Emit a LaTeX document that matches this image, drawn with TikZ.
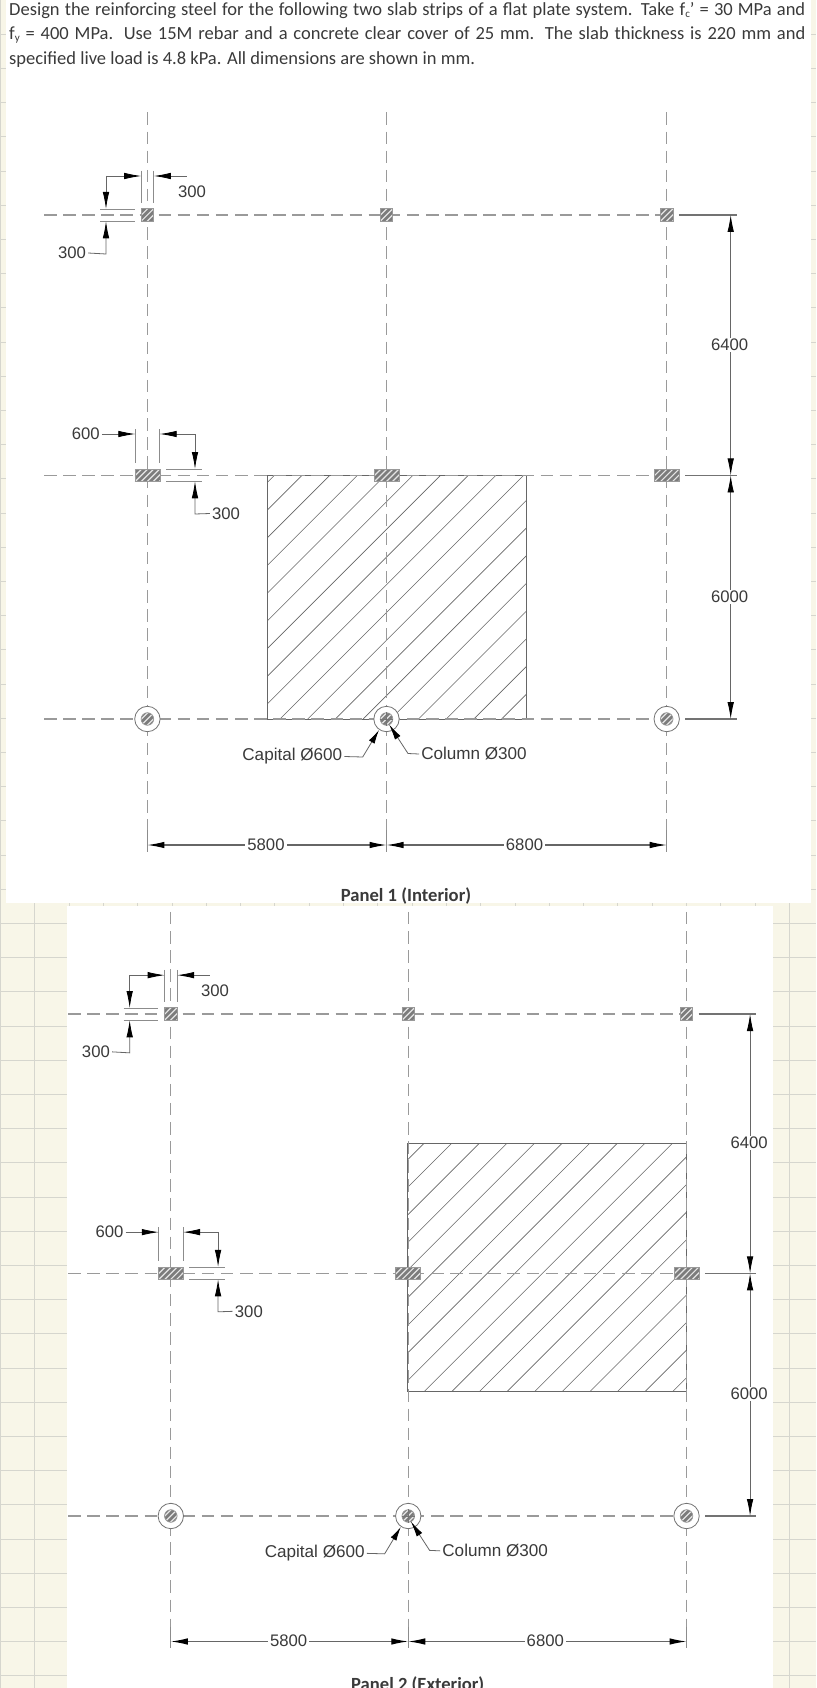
\documentclass[tikz,border=0pt]{standalone}
\usepackage{fontspec}
\setmainfont{Liberation Sans}
\newfontfamily\bodyfont{Carlito}
\usetikzlibrary{arrows.meta,calc}
\definecolor{cream}{HTML}{F8F6E8}
\definecolor{gridc}{HTML}{D6D6CE}
\definecolor{ink}{HTML}{3A3A3A}
\definecolor{dimc}{HTML}{666666}
\definecolor{axisc}{HTML}{9A9A9A}
\definecolor{colfill}{HTML}{7C7C7C}
\tikzset{
  dimtip/.tip={Latex[length=17pt,width=6.5pt,black]},
  dimln/.style={draw=dimc,line width=.8pt},
  axv/.style={draw=axisc,line width=1.1pt,dash pattern=on 12.5pt off 6.6pt},
  axh/.style={draw=axisc,line width=1.4pt,dash pattern=on 12.5pt off 6.6pt},
  sol/.style={draw=gray!90!black,line width=1.1pt},
  extln/.style={draw=gray!90,line width=.9pt},
  lbl/.style={font=\fontsize{16.7}{18}\selectfont,text=ink,fill=white,inner xsep=2pt,inner ysep=1pt},
  bare/.style={font=\fontsize{16.7}{18}\selectfont,text=ink,inner xsep=2pt,inner ysep=1pt},
  wide/.style={font=\fontsize{17.1}{18}\selectfont,text=ink,inner xsep=2pt,inner ysep=1pt},
  slabhatch/.style={draw=dimc,line width=.6pt},
  slabedge/.style={draw=dimc,line width=.85pt},
  colbox/.style={rectangle,draw=gray!80,line width=.7pt,fill=colfill,inner sep=0pt,minimum height=12.6pt,
    path picture={\foreach \k in {-24,-18,...,24}
      \draw[white!80!gray,line width=1.2pt] ([shift={(\k-20,20)}]path picture bounding box.center) -- ++(40,-40);}},
  sqcol/.style={colbox,minimum width=12.6pt},
  widecol/.style={colbox,minimum width=25pt},
  capring/.style={circle,draw=gray!90!black,line width=.8pt,fill=white,minimum size=25.4pt,inner sep=0pt},
  circol/.style={colbox,circle,minimum size=12.6pt,minimum height=12.6pt},
  titleln/.style={font=\bodyfont\fontsize{18.5}{20}\selectfont,text=ink,inner sep=0pt,anchor=base west},
  panelttl/.style={font=\bodyfont\bfseries\fontsize{18.6}{20}\selectfont,text=ink,inner sep=0pt},
}
\newcommand{\plan}[1]{%
  % named reference points
  \foreach \n/\yy in {1/0,2/260.4,3/504}{
    \coordinate (#1L\n) at (-103.4,\yy);
    \coordinate (#1E\n) at (589.6,\yy);
    \coordinate (#1R\n) at (519.3,\yy);
  }
  \foreach \n/\xx in {1/0,2/239.1,3/519.3}{
    \coordinate (#1T\n) at (\xx,-102.5);
    \coordinate (#1B\n) at (\xx,637);
    \coordinate (#1D\n) at (\xx,630);
    \coordinate (#1K\n) at (\xx,615);
    \draw[axv] (#1T\n) -- (#1B\n);
    \draw[extln] (#1K\n) -- (#1B\n);
  }
  \foreach \n in {1,2,3}{\draw[axh] (#1L\n) -- (#1R\n);}
  % columns
  \foreach \m/\xx in {1/0,2/239.1,3/519.3}{
    \node[sqcol] (#1a\m) at (\xx,0) {};
    \node[widecol] (#1b\m) at (\xx,260.4) {};
    \node[capring] (#1r\m) at (\xx,504) {};
    \node[circol] (#1c\m) at (\xx,504) {};
  }
  \draw[ink!70,line width=.7pt] (#1c2.west) -- (#1c2.east) (#1c2.north) -- (#1c2.south);
  % solid ends of the axes at right
  \draw[sol] ($(#1a3.east)+(5.6,0)$) -- (#1E1);
  \draw[sol,line width=1.4pt] ($(#1b3.east)+(5.6,0)$) -- (#1E2);
  \draw[sol] ($(#1r3.east)+(5.6,0)$) -- (#1E3);
  % overall dimensions, right
  \coordinate (#1V1) at (583.3,0); \coordinate (#1V2) at (583.3,260.4); \coordinate (#1V3) at (583.3,504);
  \draw[dimln,{dimtip}-{dimtip}] (#1V1) -- (#1V2);
  \draw[dimln,{dimtip}-{dimtip}] (#1V2) -- (#1V3);
  \node[lbl] (#1t6400) at (582.3,129.6) {6400};
  \node[lbl] (#1t6000) at (582.3,381.7) {6000};
  % overall dimensions, bottom
  \draw[dimln,line width=1.1pt,{dimtip}-{dimtip}] (#1D1) -- (#1D2);
  \draw[dimln,line width=1.1pt,{dimtip}-{dimtip}] (#1D2) -- (#1D3);
  \node[lbl] (#1t5800) at (118.6,629.5) {5800};
  \node[lbl] (#1t6800) at (377.1,629.5) {6800};
  % top-left column dimensions
  \draw[extln] (-6.2,-44.3) -- (-6.2,-12.3) (6.4,-44.3) -- (6.4,-12.3);
  \draw[extln] (-47.4,-6) -- (-12.4,-6) (-47.4,6.3) -- (-12.4,6.3);
  \coordinate (#1w1) at (-41.4,-39); \coordinate (#1w2) at (-6.2,-39);
  \coordinate (#1w3) at (-41.4,-6); \coordinate (#1w4) at (6.4,-39); \coordinate (#1w5) at (39.3,-39);
  \coordinate (#1w6) at (-41.4,6.3); \coordinate (#1w7) at (-41.4,39);
  \draw[dimln,-{dimtip}] (#1w1) -- (#1w2);
  \draw[dimln,-{dimtip}] (#1w1) -- (#1w3);
  \draw[dimln,-{dimtip}] (#1w5) -- (#1w4);
  \node[bare] (#1t300a) at (44.6,-23) {300};
  \node[bare] (#1t300b) at (-75.4,38) {300};
  \draw[dimln,-{dimtip}] (#1t300b.east) -- (#1w7) -- (#1w6);
  % mid-left column dimensions
  \draw[extln] (-12.1,214) -- (-12.1,247.7) (12.3,214) -- (12.3,247.7);
  \draw[extln] (18.6,254) -- (54.3,254) (18.6,266.3) -- (54.3,266.3);
  \node[bare] (#1t600) at (-61.7,219) {600};
  \coordinate (#1u1) at (-12.1,219); \coordinate (#1u2) at (12.3,219);
  \coordinate (#1u3) at (47.6,219); \coordinate (#1u4) at (47.6,254);
  \coordinate (#1u5) at (47.6,266.3); \coordinate (#1u6) at (47.6,299);
  \draw[dimln,-{dimtip}] (#1t600.east) -- (#1u1);
  \draw[dimln,-{dimtip}] (#1u3) -- (#1u2);
  \draw[dimln,-{dimtip}] (#1u3) -- (#1u4);
  \node[bare] (#1t300c) at (78.6,298.5) {300};
  \draw[dimln,-{dimtip}] (#1t300c.west) -- (#1u6) -- (#1u5);
  % capital and column leaders
  \node[wide] (#1tcap) at (144.9,541.5) {Capital Ø600};
  \node[wide] (#1tcol) at (326.6,539) {Column Ø300};
  \coordinate (#1n1) at (215.3,542); \coordinate (#1n2) at (231.6,515);
  \coordinate (#1n4) at (260.6,538.5); \coordinate (#1n5) at (241.6,509.3);
  \draw[dimln,-{Latex[length=14pt,width=6.5pt,black]}] (#1tcap.east) -- (#1n1) -- (#1n2);
  \draw[dimln,-{Latex[length=16pt,width=6.5pt,black]}] (#1tcol.west) -- (#1n4) -- (#1n5);
}
\begin{document}
\begin{tikzpicture}[x=1pt,y=-1pt]
\useasboundingbox (0,0) rectangle (816,1688);
\begin{scope}
\clip (0,0) rectangle (816,1688);
% background sheet with cell grid
\fill[cream] (0,0) rectangle (816,1688);
\foreach \k in {1,...,49}{\draw[gridc,line width=.9pt] (0,34.2*\k) -- (816,34.2*\k);}
\foreach \k in {0,...,23}{\draw[gridc,line width=.9pt] (.5+34.3*\k,0) -- (.5+34.3*\k,1688);}
\fill[white] (6,0) rectangle (811,902.5);
\fill[white] (66.7,906) rectangle (773.4,1688);
% title
\node[titleln] (ln1) at (9,16) {\makebox[796pt][s]{Design the reinforcing steel for the following two slab strips of a flat plate system. Take f\raisebox{-2pt}{\fontsize{11}{11}\selectfont c}’ = 30 MPa and}};
\node[titleln] (ln2) at (9,40) {\makebox[796pt][s]{f\raisebox{-2pt}{\fontsize{11}{11}\selectfont y} = 400 MPa. Use 15M rebar and a concrete clear cover of 25 mm. The slab thickness is 220 mm and}};
\node[titleln] (ln3) at (9,65) {specified live load is 4.8 kPa. All dimensions are shown in mm.};
% panel 1 slab strip
\begin{scope}
\clip (267,475.4) rectangle (526,719);
\foreach \k in {-10,...,8}{\draw[slabhatch] (280+27.7*\k,719) -- ++(262,-262);}
\end{scope}
\draw[slabedge] (267,475.4) rectangle (526,719);
\begin{scope}[shift={(147.4,215)}]
\plan{p}
\end{scope}
\node[panelttl] (ttl1) at (406,896) {Panel 1 (Interior)};
% panel 2 slab strip
\begin{scope}
\clip (407.8,1143.3) rectangle (686.5,1391.3);
\foreach \k in {-10,...,9}{\draw[slabhatch] (424.5+27.6*\k,1391.3) -- ++(262,-262);}
\end{scope}
\draw[slabedge] (407.8,1143.3) rectangle (686.5,1391.3);
\begin{scope}[shift={(170.8,1014)},x=.9931pt,y=-.996pt]
\plan{s}
\end{scope}
\node[panelttl] (ttl2) at (417.7,1684.5) {Panel 2 (Exterior)};
\end{scope}
\end{tikzpicture}
\end{document}
